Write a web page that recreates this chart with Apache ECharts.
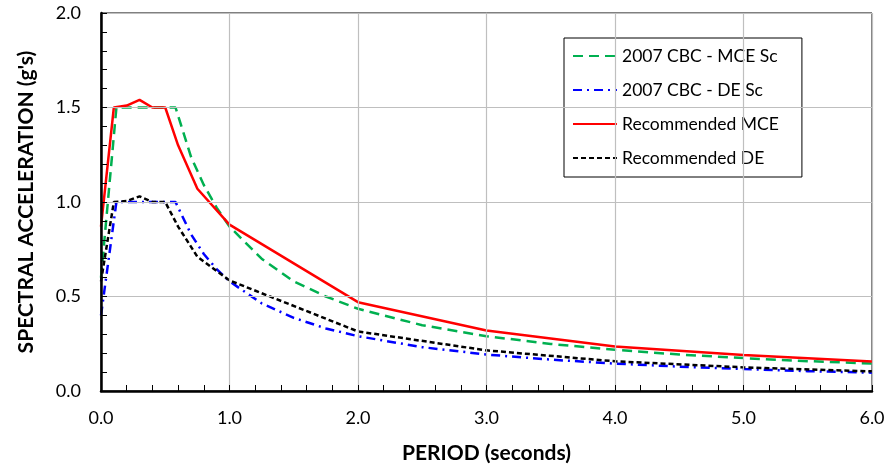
<!DOCTYPE html>
<html>
<head>
<meta charset="utf-8">
<script src="https://cdn.jsdelivr.net/npm/echarts@6/dist/echarts.min.js"></script>
<style>
  html, body { margin: 0; padding: 0; background: #fff; }
  #chart { width: 886px; height: 465px; }
</style>
</head>
<body>
<div id="chart"></div>
<script>
// Response spectra: period (s) vs spectral acceleration (g)
const seriesNames = ['2007 CBC - MCE Sc', '2007 CBC - DE Sc', 'Recommended MCE', 'Recommended DE'];

const cbcMcePeriods = [0, 0.12, 0.58, 0.7, 0.8, 0.9, 1.0, 1.25, 1.5, 1.75, 2.0, 2.5, 3.0, 3.5, 4.0, 4.5, 5.0, 5.5, 6.0];
const cbcMceValues  = [0.6, 1.5, 1.5, 1.24, 1.09, 0.97, 0.87, 0.70, 0.58, 0.50, 0.435, 0.348, 0.29, 0.249, 0.218, 0.193, 0.174, 0.158, 0.145];

const cbcDePeriods = [0, 0.12, 0.58, 0.7, 0.8, 0.9, 1.0, 1.25, 1.5, 1.75, 2.0, 2.5, 3.0, 3.5, 4.0, 4.5, 5.0, 5.5, 6.0];
const cbcDeValues  = [0.4, 1.0, 1.0, 0.83, 0.725, 0.645, 0.58, 0.464, 0.387, 0.331, 0.29, 0.232, 0.193, 0.166, 0.145, 0.129, 0.116, 0.105, 0.097];

const recPeriods   = [0, 0.1, 0.2, 0.3, 0.4, 0.5, 0.6, 0.75, 1.0, 2.0, 3.0, 4.0, 5.0, 6.0];
const recMceValues = [0.87, 1.5, 1.51, 1.54, 1.5, 1.5, 1.30, 1.07, 0.88, 0.47, 0.32, 0.235, 0.19, 0.156];
const recDeValues  = [0.58, 1.0, 1.005, 1.03, 1.0, 1.0, 0.87, 0.71, 0.585, 0.315, 0.215, 0.157, 0.125, 0.104];

const xTicks = [0, 1, 2, 3, 4, 5, 6];
const yTicks = [0, 0.5, 1.0, 1.5, 2.0];
const xMinorStep = 0.2;
const yMinorStep = 0.1;

const pairs = (xs, ys) => xs.map((x, i) => [x, ys[i]]);

const FONT = 'Lato, "Open Sans", sans-serif';
const TICK_LEN = 6;
const xMin = xTicks[0], xMax = xTicks[xTicks.length - 1];
const yMin = yTicks[0], yMax = yTicks[yTicks.length - 1];

const chart = echarts.init(document.getElementById('chart'), null, { renderer: 'canvas' });

function lineSeries(name, data, color, type, width) {
  return {
    name: name,
    type: 'line',
    data: data,
    symbol: 'none',
    showSymbol: false,
    smooth: false,
    animation: false,
    lineStyle: { color: color, width: width, type: type },
    itemStyle: { color: color, opacity: 0 },
    z: 3
  };
}

// Axis that only carries the small inward ticks
function tickAxis(min, max, step, position) {
  return {
    type: 'value', min: min, max: max, interval: step, position: position,
    axisLine: { show: false },
    axisTick: { show: true, inside: true, length: TICK_LEN, lineStyle: { color: '#000', width: 1 } },
    axisLabel: { show: false },
    splitLine: { show: false },
    z: 6
  };
}

chart.setOption({
  backgroundColor: '#ffffff',
  animation: false,
  grid: {
    left: 101, right: 14, top: 13, bottom: 74,
    outerBoundsMode: 'none',
    containLabel: false,
    show: true, borderColor: '#000', borderWidth: 1
  },
  legend: {
    orient: 'vertical',
    left: 564, top: 38,
    padding: [9, 23, 10, 8],
    itemWidth: 44, itemHeight: 14,
    itemGap: 16,
    backgroundColor: '#fff',
    borderColor: '#000', borderWidth: 1,
    itemStyle: { opacity: 0 },
    textStyle: { fontFamily: FONT, fontSize: 17.5, color: '#000' },
    data: seriesNames
  },
  xAxis: [{
    type: 'value',
    min: xMin, max: xMax, interval: 1,
    position: 'bottom',
    name: 'PERIOD (seconds)',
    nameLocation: 'middle',
    nameGap: 52,
    nameTextStyle: { fontFamily: FONT, fontSize: 21, fontWeight: 'bold', color: '#000' },
    axisLine: { show: true, onZero: false, lineStyle: { color: '#000', width: 2.5 } },
    axisTick: { show: false },
    axisLabel: {
      fontFamily: FONT, fontSize: 18, color: '#000', margin: 18,
      formatter: v => v.toFixed(1)
    },
    splitLine: { show: true, lineStyle: { color: '#bfbfbf', width: 1.2 } },
    z: 5
  }, tickAxis(xMin, xMax, xMinorStep, 'bottom')],
  yAxis: [{
    type: 'value',
    min: yMin, max: yMax, interval: 0.5,
    position: 'left',
    name: "SPECTRAL ACCELERATION (g's)",
    nameLocation: 'middle',
    nameGap: 64,
    nameTextStyle: { fontFamily: FONT, fontSize: 21, fontWeight: 'bold', color: '#000' },
    axisLine: { show: true, onZero: false, lineStyle: { color: '#000', width: 2.5 } },
    axisTick: { show: false },
    axisLabel: {
      fontFamily: FONT, fontSize: 18, color: '#000', margin: 20,
      formatter: v => v.toFixed(1)
    },
    splitLine: { show: true, lineStyle: { color: '#bfbfbf', width: 1.2 } },
    z: 5
  }, tickAxis(yMin, yMax, yMinorStep, 'left')],
  series: [
    lineSeries(seriesNames[0], pairs(cbcMcePeriods, cbcMceValues), '#00b050', [10, 6], 2.5),
    lineSeries(seriesNames[1], pairs(cbcDePeriods, cbcDeValues), '#0000ff', [9, 5, 2, 5], 2.5),
    lineSeries(seriesNames[2], pairs(recPeriods, recMceValues), '#ff0000', 'solid', 2.5),
    lineSeries(seriesNames[3], pairs(recPeriods, recDeValues), '#000000', [5, 3], 2.5)
  ]
});
</script>
</body>
</html>
